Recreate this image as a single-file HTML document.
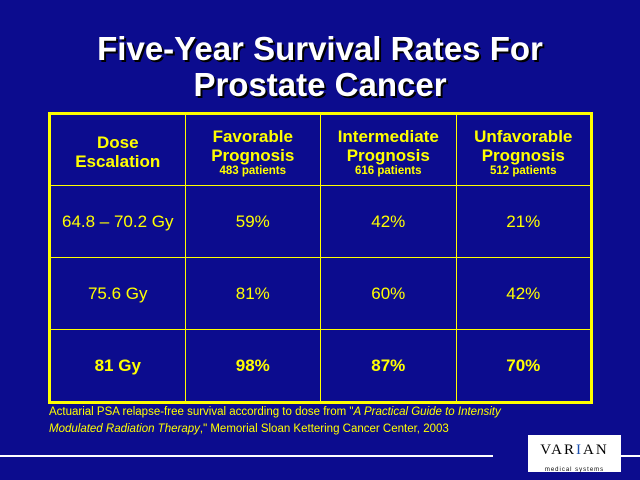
<!DOCTYPE html>
<html><head><style>
body{margin:0;width:640px;height:480px;background:#0c0c8e;overflow:hidden;position:relative;font-family:"Liberation Sans",Arial,sans-serif;}
.t{position:absolute;left:0;width:640px;top:31px;text-align:center;color:#fff;font-weight:bold;font-size:33px;line-height:36px;text-shadow:2px 2px 0 #000;}
table{position:absolute;left:48px;top:112px;width:545px;height:291px;border-collapse:collapse;border:3px solid #ffff00;}
td{border:1px solid #ffff00;color:#ffff00;text-align:center;font-size:17px;width:25%;padding:0;}
tr.h td{font-weight:bold;font-size:17px;line-height:19px;height:66px;padding-top:4px;}
tr.r td{height:71px;}
tr.h small{font-size:11.5px;display:block;line-height:12px;}
tr.b td{font-weight:bold;}
.f{position:absolute;left:49px;top:404px;color:#ffff00;font-size:11.5px;line-height:17px;}
.l1{position:absolute;left:0;top:455px;width:493px;height:2px;background:#fff;}
.l2{position:absolute;left:620px;top:455px;width:20px;height:2px;background:#fff;}
.logo{position:absolute;left:528px;top:435px;width:93px;height:37px;background:#fff;text-align:center;}
.logo div{font-family:"Liberation Serif",serif;font-size:15px;letter-spacing:2px;color:#000;margin-top:7px;line-height:16px;}
.logo span{font-size:6px;color:#000;letter-spacing:1px;}
</style></head><body>
<div class="t">Five-Year Survival Rates For<br>Prostate Cancer</div>
<table>
<tr class="h"><td>Dose<br>Escalation</td><td>Favorable<br>Prognosis<small>483 patients</small></td><td>Intermediate<br>Prognosis<small>616 patients</small></td><td>Unfavorable<br>Prognosis<small>512 patients</small></td></tr>
<tr class="r"><td>64.8 – 70.2 Gy</td><td>59%</td><td>42%</td><td>21%</td></tr>
<tr class="r"><td>75.6 Gy</td><td>81%</td><td>60%</td><td>42%</td></tr>
<tr class="r b"><td>81 Gy</td><td>98%</td><td>87%</td><td>70%</td></tr>
</table>
<div class="f">Actuarial PSA relapse-free survival according to dose from "<i>A Practical Guide to Intensity<br>Modulated Radiation Therapy</i>," Memorial Sloan Kettering Cancer Center, 2003</div>
<div class="l1"></div><div class="l2"></div>
<div class="logo"><div>VAR<span style="color:#1a4fb0;font-size:15px;letter-spacing:2px">I</span>AN</div><span>medical systems</span></div>
</body></html>
